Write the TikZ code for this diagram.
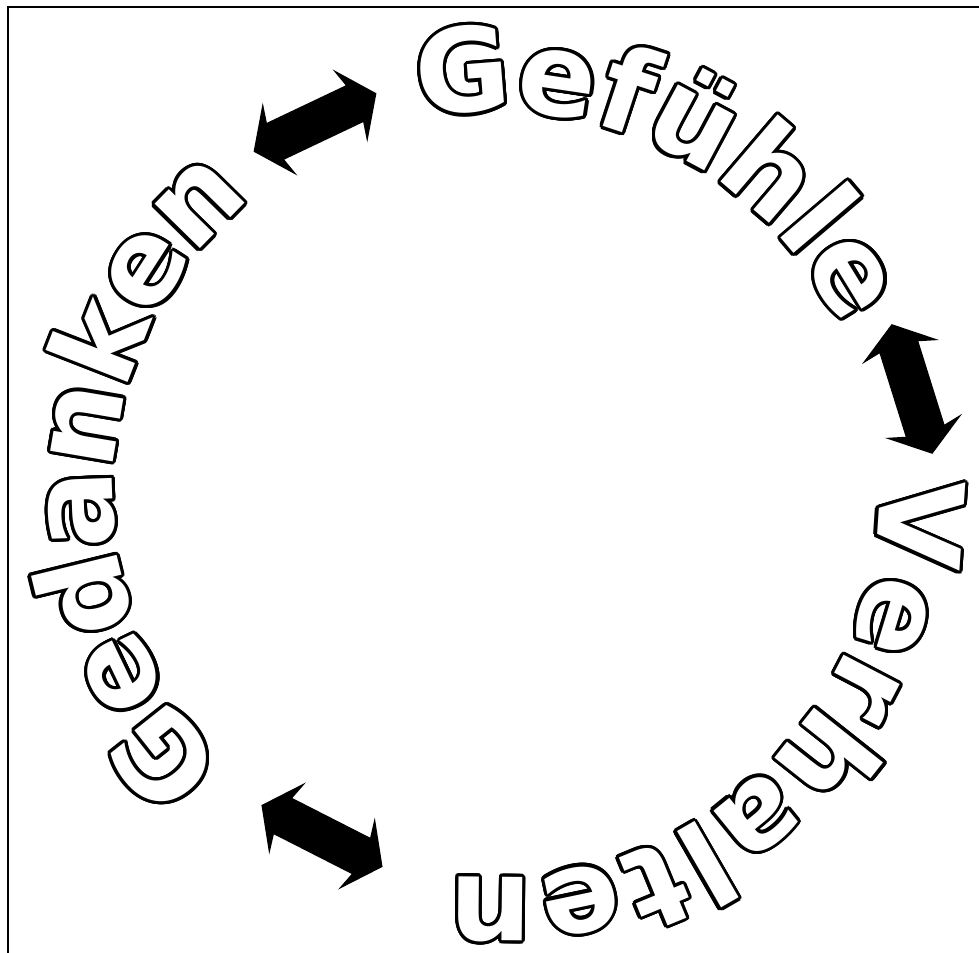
\documentclass[tikz,border=0pt]{standalone}
\usepackage{fontspec}
\setmainfont{DejaVu Sans}
\usetikzlibrary{shapes.arrows, decorations.text}

\newcommand{\wordfont}{\fontsize{66pt}{72pt}\selectfont\bfseries}
% word round the circle: black copies for the outline, white on top
% #1 word, #2 start angle, #3 end angle, #4 letter spacing
\newcommand{\ringword}[4]{%
    \foreach \a in {0,15,...,345}{
        \begin{scope}[transform canvas={shift={(\a:1.8pt)}}]
        \path[ringtext={#1}{black}{#4}]
            ([shift={(#2:383)}]c) arc[start angle=#2, end angle=#3, radius=383];
        \end{scope}
    }
    \path[ringtext={#1}{white}{#4}]
        ([shift={(#2:383)}]c) arc[start angle=#2, end angle=#3, radius=383];
}

\begin{document}
\begin{tikzpicture}[
    x=0.02cm, y=0.02cm,
    ringtext/.style n args={3}{
        decorate,
        decoration={
            text along path,
            text align=left,
            text={|\wordfont\color{#2}\kern#3|#1}
        }
    },
    biarrow/.style={
        shape=double arrow,
        fill=black,
        inner xsep=0pt,
        inner ysep=0.4cm,
        minimum height=2.72cm,
        double arrow head extend=0.4cm,
        double arrow head indent=0.1cm,
        double arrow tip angle=108
    },
    frame/.style={line width=1.2pt}
]
\useasboundingbox (0,0) rectangle (979,952);

% Frame
\draw[frame] (8,-20) -- (8,945) -- (1000,945);

% Circle centre
\coordinate (c) at (496,458);

% Words round the circle
\ringword{Gefühle}{101.6}{-10}{0pt}
\ringword{Verhalten}{3}{-130}{1.6pt}
\ringword{Gedanken}{225.3}{90}{-1.1pt}

% Arrows
\node[biarrow, rotate=25.4] (arrowtop) at (315,829.5) {};
\node[biarrow, rotate=-72.6] (arrowright) at (912,563) {};
\node[biarrow, rotate=-27] (arrowbottom) at (322,116) {};

\end{tikzpicture}
\end{document}
